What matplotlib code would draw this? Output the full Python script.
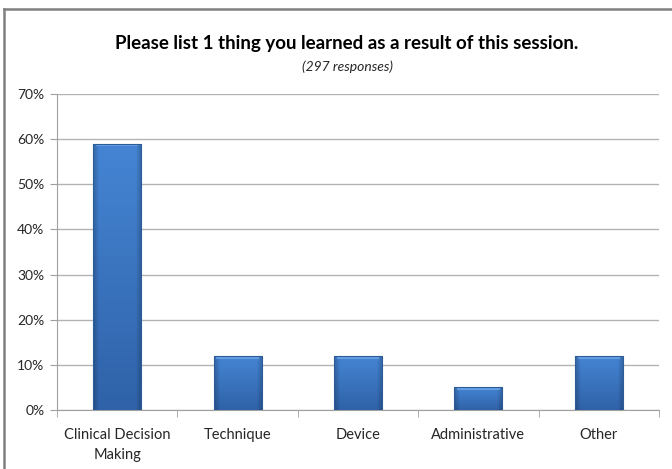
import matplotlib
matplotlib.use("Agg")
import numpy as np
import matplotlib.pyplot as plt
from matplotlib.lines import Line2D
from matplotlib.ticker import FuncFormatter, FixedLocator

categories = ["Clinical Decision\nMaking", "Technique", "Device", "Administrative", "Other"]
values = [59, 12, 12, 5, 12]
yticks = [0, 10, 20, 30, 40, 50, 60, 70]

plt.rcParams['font.family'] = ['Lato', 'DejaVu Sans']

fig = plt.figure(figsize=(6.72, 4.69), dpi=100)
ax = fig.add_axes([57/672, (469-410)/469, (659-57)/672, (410-94)/469])

x = list(range(len(categories)))
bars = ax.bar(x, values, width=0.4, color="#3B74C2", edgecolor="#2E5C98", linewidth=0.8, zorder=3)

# gradient shading inside each bar (style only)
top_c = np.array([0x45, 0x85, 0xD4]) / 255
bot_c = np.array([0x2F, 0x62, 0xA8]) / 255
ny, nx = 200, 60
t = np.linspace(0, 1, ny)[:, None, None]
base = top_c * (1 - t) + bot_c * t
u = np.linspace(0, 1, nx)[None, :, None]
edge = 1 - 0.22 * (np.clip(1 - u / 0.12, 0, 1) + np.clip((u - 0.88) / 0.12, 0, 1))
img = np.clip(base * edge, 0, 1)
for b in bars:
    x0, y0 = b.get_x(), b.get_y()
    w, h = b.get_width(), b.get_height()
    im = ax.imshow(img, extent=[x0, x0 + w, y0, y0 + h], origin="upper",
                   aspect="auto", zorder=3.5, interpolation="bilinear")
    im.set_clip_path(b)
    # light top bevel
    ax.fill_between([x0 + w * 0.06, x0 + w * 0.94], y0 + h - 0.6, y0 + h - 0.05,
                    color="#6FA6E8", alpha=0.8, zorder=3.6, linewidth=0)
    b.set_facecolor("none")
    b.set_zorder(4)

ax.set_xlim(-0.5, len(categories) - 0.5)
ax.set_ylim(0, 70)
ax.set_yticks(yticks)
ax.yaxis.set_major_formatter(FuncFormatter(lambda v, p: f"{int(v)}%"))
ax.grid(axis="y", color="#B3B3B3", linewidth=1.0, zorder=0)
ax.set_xticks(x)
ax.set_xticklabels(categories, fontsize=10.5, color="#262626", linespacing=1.5)
ax.xaxis.set_minor_locator(FixedLocator([i - 0.5 for i in range(len(categories) + 1)]))
ax.tick_params(axis="x", which="major", length=0, pad=13)
ax.tick_params(axis="x", which="minor", length=5, color="#A0A0A0", direction="out")
ax.tick_params(axis="y", length=5, color="#A0A0A0", labelsize=10, labelcolor="#262626", pad=4)
for s in ["top", "right"]:
    ax.spines[s].set_visible(False)
ax.spines["left"].set_color("#A0A0A0")
ax.spines["bottom"].set_color("#A0A0A0")

fig.text(347/672, 1 - 44/469, "Please list 1 thing you learned as a result of this session.",
         ha="center", va="center", fontsize=13.5, fontweight="bold", color="black")
fig.text(347/672, 1 - 67/469, "(297 responses)", ha="center", va="center",
         fontsize=10, style="italic", color="#262626")

# outer frame (top and left)
fig.add_artist(Line2D([4/672, 1], [1 - 9/469, 1 - 9/469], transform=fig.transFigure,
                      color="#808080", linewidth=1.8))
fig.add_artist(Line2D([4/672, 4/672], [0, 1 - 9/469], transform=fig.transFigure,
                      color="#808080", linewidth=1.8))

fig.savefig("out.png", dpi=100, facecolor="white")
